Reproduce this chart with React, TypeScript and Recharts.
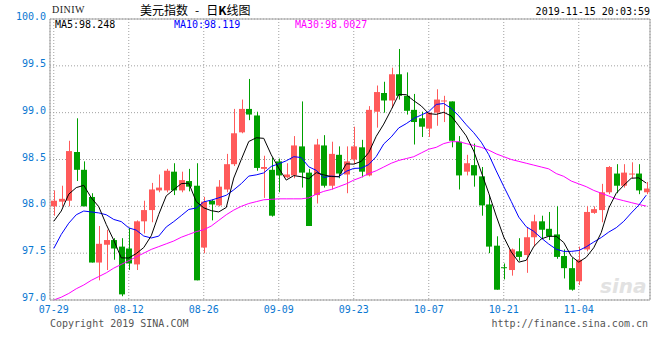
import React from 'react';
import { Bar, CartesianGrid, ComposedChart, Line, XAxis, YAxis } from 'recharts';

// 美元指数 日K线 2019-07-29 .. 2019-11-15
const tradingDays = [
  '07-29', '07-30', '07-31', '08-01', '08-02',
  '08-05', '08-06', '08-07', '08-08', '08-09',
  '08-12', '08-13', '08-14', '08-15', '08-16',
  '08-19', '08-20', '08-21', '08-22', '08-23',
  '08-26', '08-27', '08-28', '08-29', '08-30',
  '09-02', '09-03', '09-04', '09-05', '09-06',
  '09-09', '09-10', '09-11', '09-12', '09-13',
  '09-16', '09-17', '09-18', '09-19', '09-20',
  '09-23', '09-24', '09-25', '09-26', '09-27',
  '09-30', '10-01', '10-02', '10-03', '10-04',
  '10-07', '10-08', '10-09', '10-10', '10-11',
  '10-14', '10-15', '10-16', '10-17', '10-18',
  '10-21', '10-22', '10-23', '10-24', '10-25',
  '10-28', '10-29', '10-30', '10-31', '11-01',
  '11-04', '11-05', '11-06', '11-07', '11-08',
  '11-11', '11-12', '11-13', '11-14', '11-15',
];

const openValues = [
  98.0, 98.05, 98.06, 98.58, 98.39, 98.1, 97.4, 97.59, 97.64, 97.57,
  97.55, 97.38, 97.84, 97.96, 98.17, 98.17, 98.37, 98.17, 98.27, 98.22,
  97.56, 98.06, 98.01, 98.18, 98.45, 98.79, 99.04, 98.97, 98.4, 98.39,
  98.48, 98.31, 98.33, 98.64, 98.36, 98.12, 98.65, 98.22, 98.55, 98.34,
  98.5, 98.63, 98.33, 99.01, 99.21, 99.13, 99.41, 99.18, 99.03, 98.94,
  98.83, 99.0, 99.12, 99.12, 98.69, 98.37, 98.44, 98.32, 98.02, 97.58,
  97.35, 97.32, 97.52, 97.48, 97.67, 97.84, 97.76, 97.7, 97.47, 97.34,
  97.2, 97.54, 97.93, 97.96, 98.15, 98.35, 98.22, 98.34, 98.35, 98.15,
];

const highValues = [
  98.17, 98.22, 98.7, 98.94, 98.48, 98.14, 97.79, 97.75, 97.66, 97.66,
  97.77, 97.85, 98.06, 98.25, 98.34, 98.4, 98.46, 98.37, 98.4, 98.46,
  98.1, 98.07, 98.28, 98.56, 99.04, 99.14, 99.36, 99.01, 98.54, 98.52,
  98.51, 98.46, 98.75, 99.12, 98.4, 98.72, 98.76, 98.69, 98.64, 98.64,
  98.85, 98.71, 99.07, 99.29, 99.33, 99.48, 99.68, 99.43, 99.2, 99.01,
  99.0, 99.25, 99.18, 99.12, 98.75, 98.55, 98.67, 98.42, 98.12, 97.68,
  97.39, 97.55, 97.66, 97.78, 97.91, 97.9, 97.94, 98.0, 97.54, 97.45,
  97.57, 98.0, 98.0, 98.24, 98.43, 98.45, 98.45, 98.47, 98.45, 98.26,
];

const lowValues = [
  97.9, 98.0, 98.0, 98.27, 98.0, 97.4, 97.21, 97.32, 97.43, 97.04,
  97.32, 97.32, 97.71, 97.83, 98.15, 98.15, 98.12, 98.15, 98.16, 97.21,
  97.5, 97.85, 98.0, 98.15, 98.43, 98.78, 98.92, 98.38, 98.09, 97.89,
  98.15, 98.3, 98.3, 98.2, 97.79, 98.03, 98.2, 98.18, 98.3, 98.14,
  98.45, 98.31, 98.32, 98.84, 99.0, 99.05, 99.14, 98.98, 98.66, 98.74,
  98.74, 98.86, 98.9, 98.63, 98.18, 98.33, 98.21, 97.9, 97.5, 97.11,
  97.22, 97.26, 97.42, 97.29, 97.57, 97.66, 97.64, 97.44, 97.23, 97.1,
  97.16, 97.52, 97.92, 97.83, 98.13, 98.14, 98.2, 98.3, 98.13, 98.13,
];

const closeValues = [
  98.06, 98.08, 98.59, 98.39, 98.0, 97.4, 97.6, 97.64, 97.55, 97.06,
  97.39, 97.84, 97.96, 98.18, 98.2, 98.38, 98.17, 98.28, 98.21, 97.21,
  98.05, 98.02, 98.21, 98.45, 98.78, 99.04, 98.98, 98.41, 98.42, 97.9,
  98.33, 98.34, 98.65, 98.36, 97.79, 98.66, 98.22, 98.56, 98.35, 98.48,
  98.64, 98.37, 99.03, 99.22, 99.13, 99.41, 99.18, 99.02, 98.9, 98.85,
  99.0, 99.14, 99.13, 98.7, 98.33, 98.46, 98.33, 98.01, 97.57, 97.11,
  97.34, 97.54, 97.46, 97.67, 97.84, 97.75, 97.68, 97.46, 97.34, 97.11,
  97.43, 97.94, 97.97, 98.15, 98.42, 98.22, 98.36, 98.35, 98.17, 98.19,
];

const ma5Values = [
  97.84, 97.95, 98.13, 98.2, 98.224, 98.092, 97.996, 97.806, 97.638, 97.45,
  97.448, 97.496, 97.56, 97.686, 97.914, 98.112, 98.178, 98.242, 98.248, 98.05,
  97.984, 97.954, 97.94, 97.988, 98.302, 98.5, 98.692, 98.732, 98.726, 98.55,
  98.408, 98.28, 98.328, 98.316, 98.294, 98.36, 98.336, 98.318, 98.316, 98.454,
  98.45, 98.48, 98.574, 98.748, 98.878, 99.032, 99.194, 99.192, 99.128, 99.072,
  98.99, 98.982, 99.004, 98.964, 98.86, 98.752, 98.59, 98.366, 98.14, 97.896,
  97.672, 97.514, 97.404, 97.424, 97.57, 97.652, 97.68, 97.68, 97.614, 97.468,
  97.404, 97.456, 97.558, 97.72, 97.982, 98.14, 98.224, 98.3, 98.304, 98.248,
];

const ma10Values = [
  97.55, 97.7, 97.82, 97.91, 97.95, 97.94, 97.93, 97.91, 97.86, 97.837,
  97.77, 97.746, 97.683, 97.662, 97.682, 97.78, 97.837, 97.901, 97.967, 97.982,
  98.048, 98.066, 98.091, 98.118, 98.176, 98.242, 98.323, 98.336, 98.357, 98.426,
  98.454, 98.486, 98.53, 98.521, 98.422, 98.384, 98.308, 98.323, 98.316, 98.374,
  98.405, 98.408, 98.446, 98.532, 98.666, 98.741, 98.837, 98.883, 98.938, 98.975,
  99.011, 99.088, 99.098, 99.046, 98.966, 98.871, 98.786, 98.685, 98.552, 98.378,
  98.212, 98.052, 97.885, 97.782, 97.733, 97.662, 97.597, 97.542, 97.519, 97.519,
  97.528, 97.568, 97.619, 97.667, 97.725, 97.772, 97.84, 97.929, 98.012, 98.119,
];

const ma30Values = [
  97.0, 97.03, 97.07, 97.12, 97.16, 97.21, 97.25, 97.29, 97.34, 97.38,
  97.42, 97.46, 97.5, 97.54, 97.57, 97.6, 97.63, 97.67, 97.7, 97.73,
  97.75, 97.79, 97.85, 97.91, 97.96, 98.0, 98.03, 98.05, 98.07, 98.075,
  98.08, 98.08, 98.08, 98.08, 98.09, 98.13, 98.16, 98.18, 98.21, 98.24,
  98.28, 98.31, 98.35, 98.38, 98.42, 98.46, 98.49, 98.51, 98.53, 98.57,
  98.61, 98.63, 98.67, 98.69, 98.69, 98.67, 98.65, 98.63, 98.6, 98.56,
  98.53, 98.5, 98.48, 98.46, 98.44, 98.42, 98.4, 98.35, 98.32, 98.27,
  98.24, 98.21, 98.17, 98.14, 98.11, 98.08, 98.06, 98.04, 98.02, 98.0027,
];

const priceTicks = [97, 97.5, 98, 98.5, 99, 99.5, 100];
const dateTicks = ['07-29', '08-12', '08-26', '09-09', '09-23', '10-07', '10-21', '11-04'];

const RED = '#ff5a5a';
const GREEN = '#00a000';
const LABEL_BLUE = '#0a78d2';
const BORDER = '#a0a0a0';
const MONO = '"DejaVu Sans Mono", monospace';

const rows = tradingDays.map((day, i) => ({
  day,
  open: openValues[i],
  high: highValues[i],
  low: lowValues[i],
  close: closeValues[i],
  range: [lowValues[i], highValues[i]],
  ma5: ma5Values[i],
  ma10: ma10Values[i],
  ma30: ma30Values[i],
}));

// body + wick drawn inside the [low, high] bar the library positions for us
function Candle(props: any) {
  const { x, y, width, height, payload } = props;
  if (!payload || height == null) return null;
  const top = Math.min(y, y + height);
  const h = Math.abs(height);
  const { open, close, high, low } = payload;
  const span = high - low || 1;
  const toY = (v: number) => top + ((high - v) / span) * h;
  const color = close >= open ? RED : GREEN;
  const left = Math.round(x);
  const w = Math.round(width);
  const cx = left + Math.floor(w / 2) + 0.5;
  const bodyTop = toY(Math.max(open, close));
  const bodyBottom = toY(Math.min(open, close));
  return (
    <g>
      <line x1={cx} x2={cx} y1={top} y2={top + h} stroke={color} strokeWidth={1} />
      <rect
        x={left}
        y={bodyTop}
        width={w}
        height={Math.max(1, bodyBottom - bodyTop)}
        fill={color}
      />
    </g>
  );
}

function PriceTick({ x, y, payload }: any) {
  return (
    <text
      x={x}
      y={y - 2.5}
      textAnchor="end"
      dominantBaseline="central"
      fontFamily={MONO}
      fontSize={10}
      fill={LABEL_BLUE}
    >
      {Number(payload.value).toFixed(1)}
    </text>
  );
}

function DateTick({ x, y, payload }: any) {
  return (
    <text
      x={x}
      y={y + 9}
      textAnchor="middle"
      dominantBaseline="central"
      fontFamily={MONO}
      fontSize={10}
      fill={LABEL_BLUE}
    >
      {payload.value}
    </text>
  );
}

const textAt = (left: number, centerY: number, size: number): React.CSSProperties => ({
  position: 'absolute',
  left,
  top: centerY - size / 2,
  fontSize: size,
  lineHeight: `${size}px`,
  whiteSpace: 'nowrap',
});

export default function App() {
  return (
    <div
      style={{
        position: 'absolute',
        left: 0,
        top: 0,
        width: 660,
        height: 360,
        background: '#fff',
        overflow: 'hidden',
      }}
    >
      <ComposedChart
        width={660}
        height={360}
        data={rows}
        margin={{ top: 0, right: 0, bottom: 40, left: 0 }}
      >
        <CartesianGrid stroke={BORDER} strokeDasharray="1 2" />
        <XAxis
          dataKey="day"
          ticks={dateTicks}
          interval={0}
          height={20}
          tickSize={0}
          tickMargin={0}
          tickLine={false}
          axisLine={{ stroke: BORDER }}
          tick={<DateTick />}
        />
        <XAxis
          xAxisId="top"
          orientation="top"
          dataKey="day"
          height={19}
          tick={false}
          tickLine={false}
          axisLine={{ stroke: BORDER }}
        />
        <YAxis
          type="number"
          domain={[97, 100]}
          ticks={priceTicks}
          interval={0}
          width={50}
          tickSize={0}
          tickMargin={4}
          tickLine={false}
          axisLine={{ stroke: BORDER }}
          tick={<PriceTick />}
        />
        <YAxis
          yAxisId="right"
          orientation="right"
          type="number"
          domain={[97, 100]}
          width={10}
          tick={false}
          tickLine={false}
          axisLine={{ stroke: BORDER }}
        />
        <Bar dataKey="range" barSize={6} shape={<Candle />} isAnimationActive={false} />
        <Line
          dataKey="ma30"
          type="linear"
          stroke="#ff00ff"
          strokeWidth={1}
          dot={false}
          isAnimationActive={false}
        />
        <Line
          dataKey="ma10"
          type="linear"
          stroke="#0000ff"
          strokeWidth={1}
          dot={false}
          isAnimationActive={false}
        />
        <Line
          dataKey="ma5"
          type="linear"
          stroke="#000000"
          strokeWidth={1}
          dot={false}
          isAnimationActive={false}
        />
      </ComposedChart>

      <div style={{ ...textAt(52, 10, 10), fontFamily: '"Liberation Serif", serif', color: '#222', letterSpacing: 0.5 }}>
        DINIW
      </div>
      <div style={{ ...textAt(140, 9.5, 12), fontFamily: '"Noto Sans CJK SC", sans-serif', color: '#000' }}>
        美元指数<span style={{ margin: '0 7px' }}>-</span>日<b>K</b>线图
      </div>
      <div
        style={{
          ...textAt(0, 12, 10),
          left: undefined,
          right: 10,
          fontFamily: MONO,
          color: '#000',
        }}
      >
        2019-11-15 20:03:59
      </div>

      <div style={{ ...textAt(55, 25, 10), fontFamily: MONO, color: '#000' }}>MA5:98.248</div>
      <div style={{ ...textAt(174, 25, 10), fontFamily: MONO, color: '#0000ff' }}>MA10:98.119</div>
      <div style={{ ...textAt(295, 25, 10), fontFamily: MONO, color: '#ff00ff' }}>MA30:98.0027</div>

      <div
        style={{
          ...textAt(600, 286, 20),
          fontFamily: '"DejaVu Sans", sans-serif',
          fontStyle: 'italic',
          fontWeight: 700,
          color: '#e2e2e2',
        }}
      >
        sina
      </div>

      <div style={{ ...textAt(50, 324, 10), fontFamily: MONO, color: '#555' }}>
        Copyright 2019 SINA.COM
      </div>
      <div
        style={{
          ...textAt(0, 324, 10),
          left: undefined,
          right: 12,
          fontFamily: MONO,
          color: '#555',
        }}
      >
        http://finance.sina.com.cn
      </div>
    </div>
  );
}
